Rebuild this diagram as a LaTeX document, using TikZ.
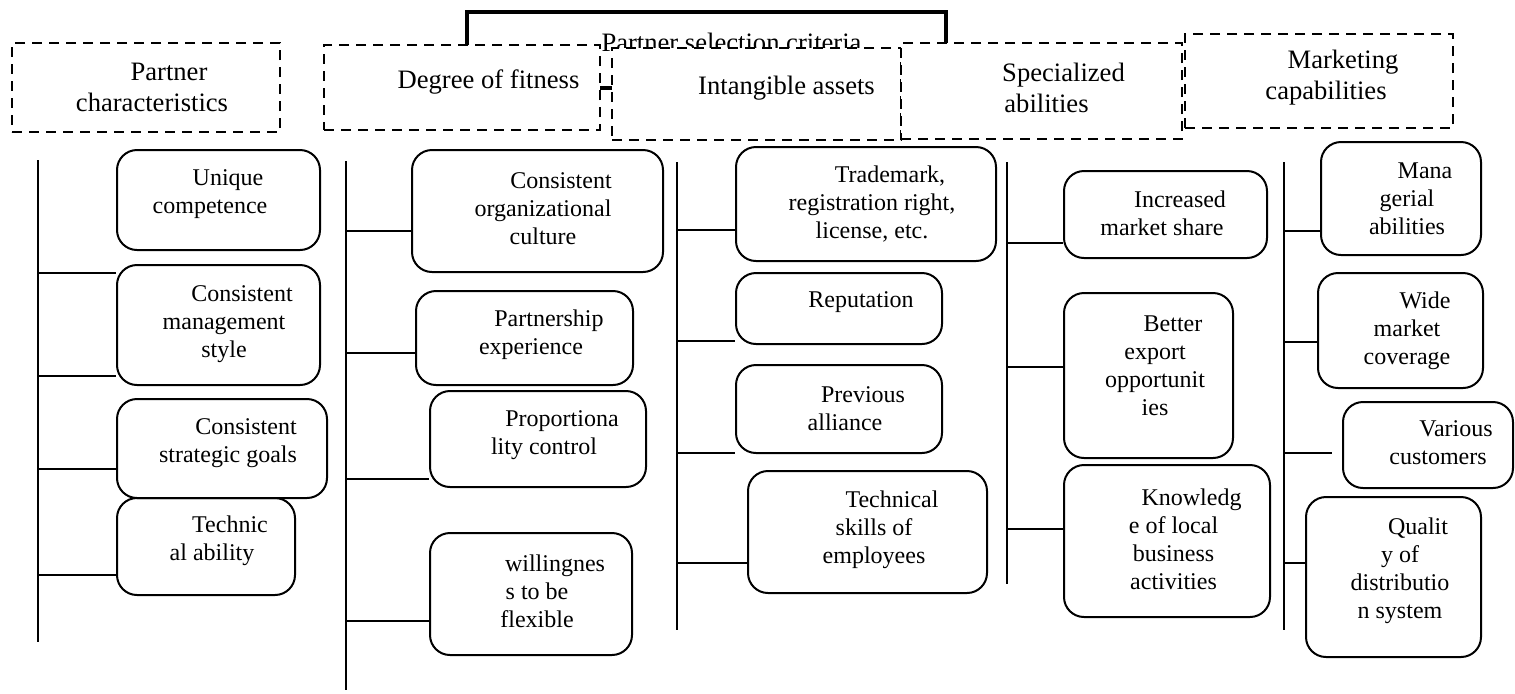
\documentclass[tikz,border=0pt]{standalone}
\usepackage{fontspec}
\setmainfont{Liberation Serif}
\usetikzlibrary{fit}
\newcommand\ind{\hspace*{18pt}}
\newcommand\hind{\hspace*{17pt}}
\tikzset{
  rbox/.style={draw, line width=1pt, rounded corners=10pt, inner sep=0pt},
  hbox/.style={draw, fill=white, line width=1.4pt, dash pattern=on 5pt off 3.5pt, inner sep=0pt},
  tbox/.style={draw, line width=2.4pt, inner sep=0pt},
  btxt/.style={font=\fontsize{12pt}{14pt}\selectfont, align=center, inner sep=0pt},
  htxt/.style={font=\fontsize{13.3pt}{15.5pt}\selectfont, align=center, inner sep=0pt},
  trunk/.style={line width=1pt},
}
% name, x1, y1, x2, y2, text x, text y, text
\newcommand\rbx[8]{%
  \node[rbox, fit={(#2,#3) (#4,#5)}] (#1) {};
  \node[btxt] (#1t) at (#6,#7) {#8};}
\newcommand\hbx[8]{%
  \node[hbox, fit={(#2,#3) (#4,#5)}] (#1) {};
  \node[htxt] (#1t) at (#6,#7) {#8};}
\begin{document}
\begin{tikzpicture}[x=0.5pt, y=-0.5pt]
\useasboundingbox (0,0) rectangle (1515,693);

% title box
\node[tbox, fit={(467,12) (946,88)}] (title) {};
\node[htxt] (titlet) at (731.5,42) {Partner selection criteria};

% header boxes
\hbx{h1}{12}{43}{280}{132}{152}{87.5}{\hind Partner\\characteristics}
\hbx{h2}{324}{45}{600}{130}{488.5}{82}{Degree of fitness}
\hbx{h3}{612}{48}{901}{140}{786.5}{88}{Intangible assets}
\hbx{h4}{901}{43}{1182}{139}{1046.5}{87.5}{\hind Specialized\\abilities}
\hbx{h5}{1185}{34}{1453}{128}{1326}{78}{\hind Marketing\\capabilities}

% column 1
\coordinate (t1a) at (38,160);
\coordinate (t1b) at (38,642);
\draw[trunk] (t1a) -- (t1b);
\rbx{b11}{117}{150}{320}{250}{210}{194.5}{\ind Unique\\competence}
\rbx{b12}{117}{265}{320}{385}{224}{324}{\ind Consistent\\management\\style}
\rbx{b13}{117}{399}{327}{498}{228}{443.5}{\ind Consistent\\strategic goals}
\rbx{b14}{117}{498}{295}{595}{212}{541}{\ind Technic\\al ability}
\draw[trunk] (t1a |- 0,273) -- (b12.west |- 0,273);
\draw[trunk] (t1a |- 0,376) -- (b12.west |- 0,376);
\draw[trunk] (t1a |- 0,469) -- (b13.west |- 0,469);
\draw[trunk] (t1a |- 0,575) -- (b14.west |- 0,575);

% column 2
\coordinate (t2a) at (346,161);
\coordinate (t2b) at (346,690);
\draw[trunk] (t2a) -- (t2b);
\rbx{b21}{412}{150}{663}{272}{543}{209}{\ind Consistent\\organizational\\culture}
\rbx{b22}{416}{291}{633}{385}{531}{335}{\ind Partnership\\experience}
\rbx{b23}{430}{391}{646}{487}{544}{435}{\ind Proportiona\\lity control}
\rbx{b24}{430}{533}{632}{655}{537}{591}{\ind willingnes\\s to be\\flexible}
\draw[trunk] (t2a |- 0,231) -- (b21.west |- 0,231);
\draw[trunk] (t2a |- 0,353) -- (b22.west |- 0,353);
\draw[trunk] (t2a |- 0,479) -- (b23.west |- 0,479);
\draw[trunk] (t2a |- 0,621) -- (b24.west |- 0,621);

% column 3
\coordinate (t3a) at (677,162);
\coordinate (t3b) at (677,630);
\draw[trunk] (t3a) -- (t3b);
\rbx{b31}{736}{147}{996}{261}{872}{204.5}{\ind Trademark,\\registration right,\\license, etc.}
\rbx{b32}{736}{273}{942}{344}{861}{302}{Reputation}
\rbx{b33}{736}{365}{942}{453}{845}{408.5}{\ind Previous\\alliance}
\rbx{b34}{748}{471}{987}{593}{874}{529.5}{\ind Technical\\skills of\\employees}
\draw[trunk] (t3a |- 0,230) -- (b31.west |- 0,230);
\draw[trunk] (t3a |- 0,341) -- (b32.west |- 0,341);
\draw[trunk] (t3a |- 0,453) -- (b33.west |- 0,453);
\draw[trunk] (t3a |- 0,563) -- (b34.west |- 0,563);

% column 4
\coordinate (t4a) at (1007,162);
\coordinate (t4b) at (1007,584);
\draw[trunk] (t4a) -- (t4b);
\rbx{b41}{1064}{171}{1267}{258}{1162}{213}{\ind Increased\\market share}
\rbx{b42}{1064}{293}{1233}{458}{1155}{366}{\ind Better\\export\\opportunit\\ies}
\rbx{b43}{1064}{465}{1270}{617}{1173.5}{539}{\ind Knowledg\\e of local\\business\\activities}
\draw[trunk] (t4a |- 0,243) -- (b41.west |- 0,243);
\draw[trunk] (t4a |- 0,367) -- (b42.west |- 0,367);
\draw[trunk] (t4a |- 0,529) -- (b43.west |- 0,529);

% column 5
\coordinate (t5a) at (1284,162);
\coordinate (t5b) at (1284,630);
\coordinate (c53) at (1332,453);
\draw[trunk] (t5a) -- (t5b);
\rbx{b51}{1321}{142}{1481}{255}{1407}{199}{\ind Mana\\gerial\\abilities}
\rbx{b52}{1318}{273}{1483}{388}{1407}{330.5}{\ind Wide\\market\\coverage}
\rbx{b53}{1343}{402}{1513}{488}{1438}{443}{\ind Various\\customers}
\rbx{b54}{1306}{497}{1481}{657}{1400}{570.5}{\ind Qualit\\y of\\distributio\\n system}
\draw[trunk] (t5a |- 0,231) -- (b51.west |- 0,231);
\draw[trunk] (t5a |- 0,342) -- (b52.west |- 0,342);
\draw[trunk] (t5a |- c53) -- (c53);
\draw[trunk] (t5a |- 0,563) -- (b54.west |- 0,563);
\end{tikzpicture}
\end{document}
